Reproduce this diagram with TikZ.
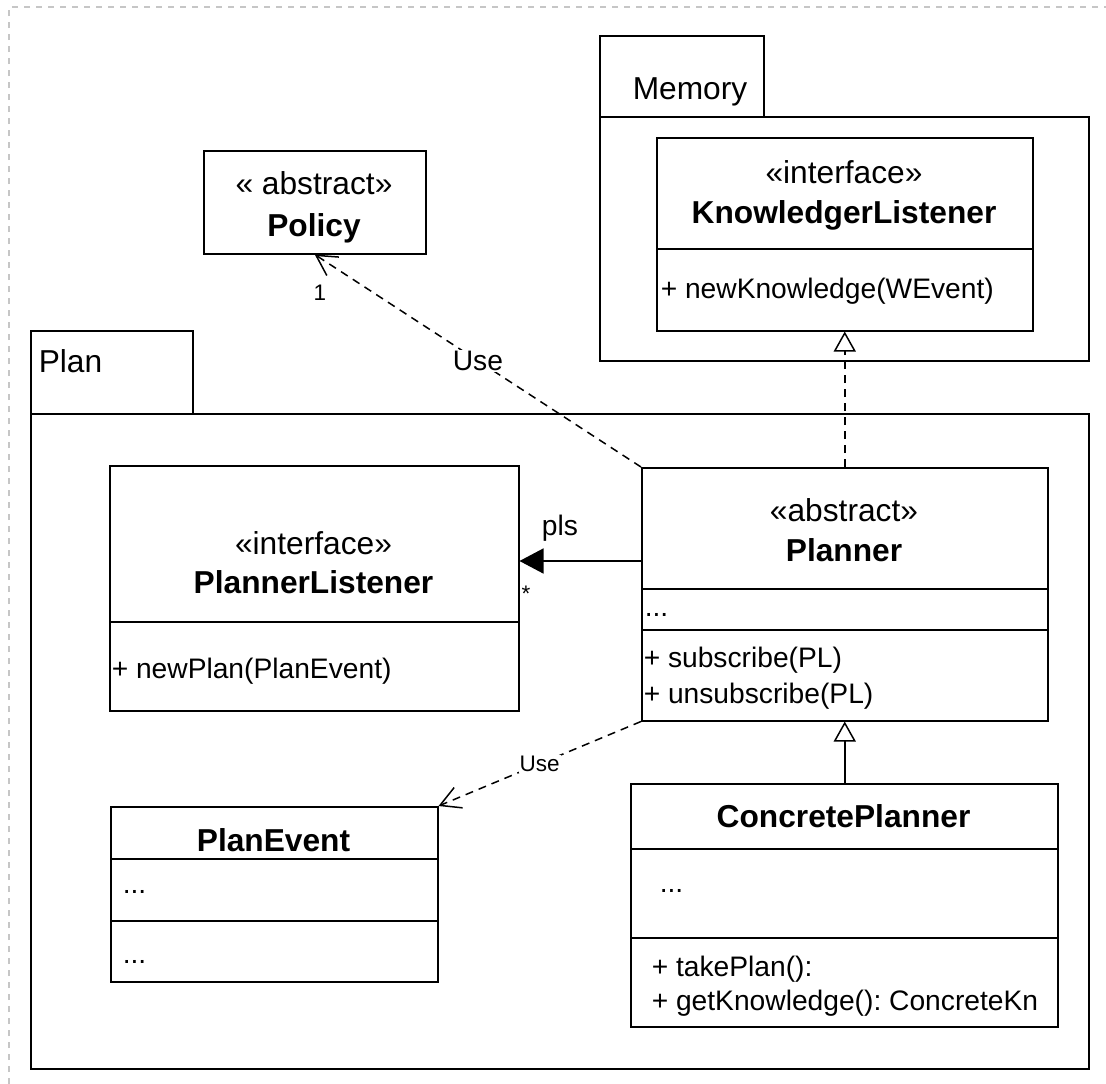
\documentclass[tikz,border=0pt]{standalone}
\usepackage{fontspec}
\setmainfont{Liberation Sans}
\usetikzlibrary{arrows.meta,positioning,calc}
\newcommand\umlfs{\fontsize{31.7}{36}\selectfont}
\newcommand\memfs{\fontsize{28.2}{34}\selectfont}
\newcommand\tinyfs{\fontsize{22.5}{26}\selectfont}
\frenchspacing

\begin{document}
\begin{tikzpicture}[x=1pt,y=-1pt,line width=1.5pt,font=\umlfs]
\tikzset{box/.style={draw,rectangle,anchor=north west,inner sep=0pt},
  txt/.style={inner sep=0pt,anchor=base},
  ltxt/.style={inner sep=0pt,anchor=base west,font=\memfs},
  usedep/.style={dash pattern=on 8pt off 6pt,-{Straight Barb[length=20pt,width=22pt]}},
  realize/.style={dash pattern=on 8pt off 6pt,-{Triangle[open,length=20pt,width=22pt]}},
  inherit/.style={-{Triangle[open,length=20pt,width=22pt]}},
  assoc/.style={-{Triangle[length=24pt,width=25pt]}}}
\useasboundingbox (0,0) rectangle (1106,1084);
\draw[gray!45,dash pattern=on 6pt off 6pt] (9,1084) -- (9,7) -- (1106,7);

  \node[box,minimum width=164pt,minimum height=81pt] (memtab) at (599,35) {};
  \node[box,minimum width=489pt,minimum height=244pt] (mem) at (599,116) {};
  \node[txt] (memt) at (690,99) {Memory};

  \node[box,minimum width=222pt,minimum height=103pt] (pol) at (203,150) {};
  \node[txt] (pol1) at (314,194) {« abstract»};
  \node[txt,font=\umlfs\bfseries] (pol2) at (314,236) {Policy};

  \node[box,minimum width=376pt,minimum height=193pt] (kl) at (656,137) {};
  \draw ([yshift=-112pt]kl.north west) -- ([yshift=-112pt]kl.north east);
  \node[txt] (kl1) at (844,183) {«interface»};
  \node[txt,font=\umlfs\bfseries] (kl2) at (844,223) {KnowledgerListener};
  \node[ltxt] (kl3) at (660,298) {+ newKnowledge(WEvent)};

  \node[box,minimum width=162pt,minimum height=83pt] (plantab) at (30,330) {};
  \node[box,minimum width=1058pt,minimum height=655pt] (plan) at (30,413) {};
  \node[txt,anchor=base west] (plant) at (38,372) {Plan};

  \node[box,minimum width=409pt,minimum height=245pt] (pl) at (109,465) {};
  \draw ([yshift=-157pt]pl.north west) -- ([yshift=-157pt]pl.north east);
  \node[txt] (pl1) at (313.5,554) {«interface»};
  \node[txt,font=\umlfs\bfseries] (pl2) at (313.5,593) {PlannerListener};
  \node[ltxt] (pl3) at (111,678) {+ newPlan(PlanEvent)};

  \node[box,minimum width=406pt,minimum height=253pt] (pn) at (641,467) {};
  \draw ([yshift=-122pt]pn.north west) -- ([yshift=-122pt]pn.north east);
  \draw ([yshift=-163pt]pn.north west) -- ([yshift=-163pt]pn.north east);
  \node[txt] (pn1) at (844,521) {«abstract»};
  \node[txt,font=\umlfs\bfseries] (pn2) at (844,561) {Planner};
  \node[ltxt] (pn3) at (644,616) {...};
  \node[ltxt] (pn4) at (643,667) {+ subscribe(PL)};
  \node[ltxt] (pn5) at (643,703) {+ unsubscribe(PL)};

  \node[box,minimum width=327pt,minimum height=175pt] (pe) at (110,806) {};
  \draw ([yshift=-53pt]pe.north west) -- ([yshift=-53pt]pe.north east);
  \draw ([yshift=-115pt]pe.north west) -- ([yshift=-115pt]pe.north east);
  \node[txt,font=\umlfs\bfseries] (pe1) at (273.5,851) {PlanEvent};
  \node[ltxt] (pe2) at (122,893) {...};
  \node[ltxt] (pe3) at (122,963) {...};

  \node[box,minimum width=427pt,minimum height=243pt] (cp) at (630,783) {};
  \draw ([yshift=-66pt]cp.north west) -- ([yshift=-66pt]cp.north east);
  \draw ([yshift=-155pt]cp.north west) -- ([yshift=-155pt]cp.north east);
  \node[txt,font=\umlfs\bfseries] (cp1) at (843.5,827) {ConcretePlanner};
  \node[ltxt] (cp2) at (659,892) {...};
  \node[ltxt] (cp3) at (651,976) {+ takePlan():};
  \node[ltxt] (cp4) at (651,1010) {+ getKnowledge(): ConcreteKn};

  \draw[usedep] (pn.north west) -- node[fill=white,inner sep=1pt,font=\memfs] (use1) {Use} (pol.south);
  \node[font=\tinyfs] (one) at (320,293) {1};
  \draw[realize] (pn.north) -- (kl.south);
  \path (pn.north west) ++(0,94) coordinate (plsA);
  \draw[assoc] (plsA) -- (plsA -| pl.east);
  \node[font=\memfs] (pls) at (560,528) {pls};
  \node[font=\tinyfs] (many) at (526,594) {*};
  \draw[usedep] (pn.south west) -- node[fill=white,inner sep=1pt,font=\tinyfs] (use2) {Use} (pe.north east);
  \draw[inherit] (pn.south |- cp.north) -- (pn.south);
\end{tikzpicture}
\end{document}
